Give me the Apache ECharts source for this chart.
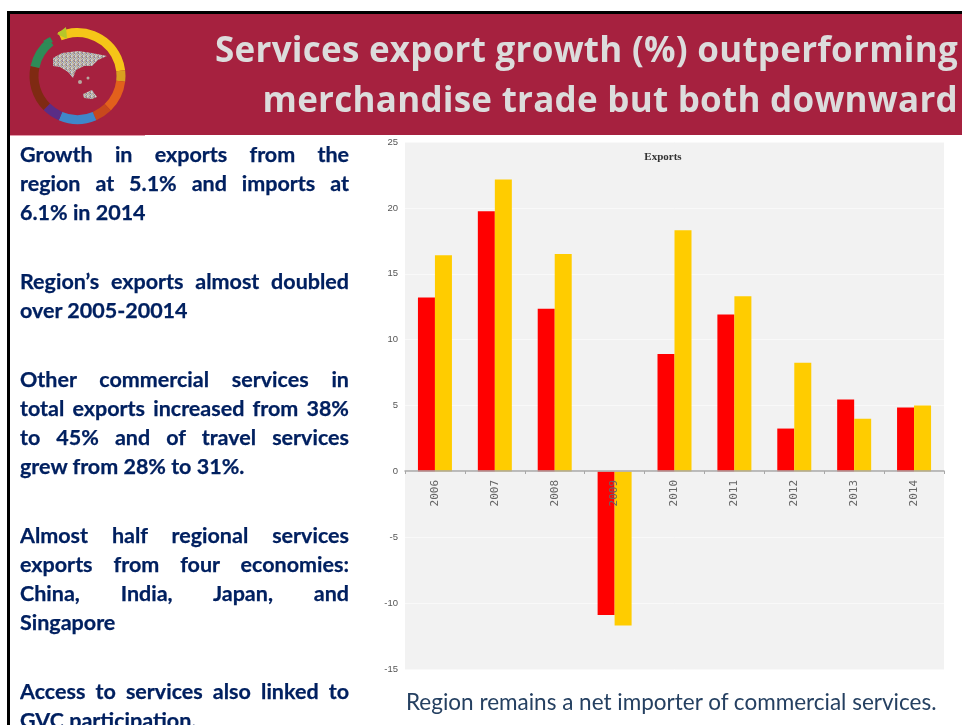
<!DOCTYPE html>
<html>
<head>
<meta charset="utf-8">
<script src="https://cdn.jsdelivr.net/npm/echarts@6/dist/echarts.min.js"></script>
<style>
html,body{margin:0;padding:0;background:#fff;overflow:hidden;width:962px;height:725px}
#chart{position:absolute;left:0;top:0;width:962px;height:725px}
.t{position:absolute;white-space:nowrap}
#title{right:4px;top:24px;text-align:right;font:700 35px/50px "Open Sans",sans-serif;color:#DCDCDC;letter-spacing:.25px}
#side{position:absolute;left:20px;top:140px;width:329px;font:700 21.5px/29px Lato,sans-serif;color:#002060;height:585px;overflow:hidden;-webkit-text-stroke:.25px #002060}
#side div.l{text-align:justify;text-align-last:justify;height:29px;white-space:nowrap}
#side div.e{text-align:left;height:29px;white-space:nowrap}
#side div.g{height:40px}
#cap{left:406px;top:686px;font:400 22.5px/32px Lato,sans-serif;color:#254061}
</style>
</head>
<body>
<div id="chart"></div>
<div id="title" class="t">Services export growth (%) outperforming<br>merchandise trade but both downward</div>
<div id="side">
<div class="l">Growth in exports from the</div>
<div class="l">region at 5.1% and imports at</div>
<div class="e">6.1% in 2014</div>
<div class="g"></div>
<div class="l">Region’s exports almost doubled</div>
<div class="e">over 2005-20014</div>
<div class="g"></div>
<div class="l">Other commercial services in</div>
<div class="l">total exports increased from 38%</div>
<div class="l">to 45% and of travel services</div>
<div class="e">grew from 28% to 31%.</div>
<div class="g"></div>
<div class="l">Almost half regional services</div>
<div class="l">exports from four economies:</div>
<div class="l">China, India, Japan, and</div>
<div class="e">Singapore</div>
<div class="g"></div>
<div class="l">Access to services also linked to</div>
<div class="e">GVC participation.</div>
</div>
<div id="cap" class="t">Region remains a net importer of commercial services.</div>
<script>
var years = ['2006','2007','2008','2009','2010','2011','2012','2013','2014'];
var redSeries = [13.2,19.75,12.35,-10.9,8.9,11.9,3.25,5.45,4.85];
var goldSeries = [16.4,22.15,16.5,-11.7,18.3,13.3,8.25,4.0,5.0];
var chartTitle = 'Exports';

var cx = 77.5, cy = 76, R = 48, R0 = 39;
var ringParts = [
  [-114,-7,'#F5C518'],[-7,7,'#D9A020'],[7,46,'#E2601C'],[46,67,'#C8481C'],
  [67,113,'#3F87C9'],[113,135,'#5A2D86'],[135,192,'#7F2A12'],[192,232,'#2E8B57']
];
function rad(d){return d*Math.PI/180;}
// speckled tile for the small map in the logo
var tile = document.createElement('canvas');
tile.width = 4; tile.height = 4;
var tc = tile.getContext('2d');
[['#C9C3BC',0,0],['#8C8FA8',1,0],['#B89A7C',2,0],['#D8D4CE',3,0],
 ['#A8B0A0',0,1],['#C8A8A0',1,1],['#7F7F9C',2,1],['#C0BAB4',3,1],
 ['#D8C890',0,2],['#A09AA8',1,2],['#CFCAC4',2,2],['#98A8B8',3,2],
 ['#B8B4C0',0,3],['#D0C0B0',1,3],['#9C9488',2,3],['#C4C8CC',3,3]].forEach(function(p){
  tc.fillStyle = p[0]; tc.fillRect(p[1],p[2],1,1);
});
var speckle = {image:tile, repeat:'repeat'};
var logo = ringParts.map(function(p){
  return {type:'sector',silent:true,z:3,shape:{cx:cx,cy:cy,r:R,r0:R0,startAngle:rad(p[0]),endAngle:rad(p[1])},style:{fill:p[2]}};
});
logo.push({type:'polygon',silent:true,z:3,shape:{points:[[57,34],[66,27],[67,39]]},style:{fill:'#B5C62A'}});
logo.push({type:'polygon',silent:true,z:3,shape:{points:[[43,41],[50,37],[53,42],[47,44]]},style:{fill:'#2E8B57'}});
logo.push({type:'polygon',silent:true,z:3,shape:{points:[[53,58],[62,53],[78,51],[92,53],[107,56],[98,60],[92,66],[84,66],[76,70],[73,78],[68,72],[60,67],[53,66]]},style:{fill:speckle}});
logo.push({type:'polygon',silent:true,z:3,shape:{points:[[83,94],[92,90],[97,97],[92,99],[84,98]]},style:{fill:speckle}});
logo.push({type:'circle',silent:true,z:3,shape:{cx:80,cy:82,r:2},style:{fill:'#B8A8A0'}});
logo.push({type:'circle',silent:true,z:3,shape:{cx:88,cy:78,r:1.5},style:{fill:'#B8A8A0'}});

var frame = [
  {type:'rect',silent:true,z:1,shape:{x:7,y:11,width:955,height:3},style:{fill:'#000'}},
  {type:'rect',silent:true,z:1,shape:{x:7,y:11,width:3,height:714},style:{fill:'#000'}},
  {type:'rect',silent:true,z:1,shape:{x:10,y:14,width:952,height:121},style:{fill:'#A6213F'}},
  {type:'rect',silent:true,z:1,shape:{x:10,y:135,width:135,height:1},style:{fill:'#E39AAB'}}
];

var chart = echarts.init(document.getElementById('chart'), null, {renderer:'canvas'});
chart.setOption({
  animation:false,
  backgroundColor:'transparent',
  title:{text:chartTitle,left:663,top:152,padding:0,textAlign:'center',textStyle:{fontFamily:'"Liberation Serif",serif',fontWeight:'bold',fontSize:11,color:'#333'}},
  grid:{left:405,right:18,top:142,bottom:56,show:true,backgroundColor:'#F2F2F2',borderWidth:0},
  xAxis:{type:'category',data:years,z:5,position:'bottom',offset:-198,
    axisLine:{onZero:false,lineStyle:{color:'#A8A8A8',width:1.5}},
    axisTick:{show:true,length:3,lineStyle:{color:'#A8A8A8'}},
    axisLabel:{rotate:90,margin:9,interval:0,fontFamily:'"DejaVu Sans Mono",monospace',fontSize:11,color:'#666'},
    splitLine:{show:false}},
  yAxis:{type:'value',min:-15,max:25,interval:5,
    axisLine:{show:false},axisTick:{show:false},
    axisLabel:{margin:7,fontFamily:'"Liberation Sans",sans-serif',fontSize:9.5,color:'#555'},
    splitLine:{show:true,lineStyle:{color:'#F9F9F9',width:1}}},
  series:[
    {type:'bar',data:redSeries,barWidth:17,barGap:'0%',itemStyle:{color:'#FF0000'}},
    {type:'bar',data:goldSeries,barWidth:17,barGap:'0%',itemStyle:{color:'#FFCC00'}}
  ],
  graphic:frame.concat(logo)
});
</script>
</body>
</html>
